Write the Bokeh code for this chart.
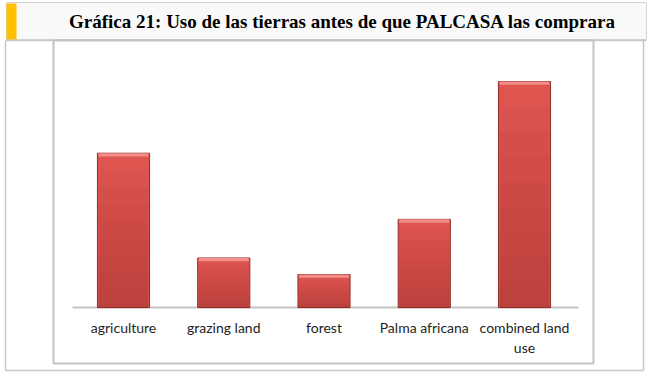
from bokeh.plotting import figure
from bokeh.models import Range1d, FactorRange
from bokeh.core.properties import value
from bokeh.embed import file_html
from bokeh.resources import INLINE

# ---- data ----
categories = ["agriculture", "grazing land", "forest", "Palma africana", "combined land use"]
tick_labels = ["agriculture", "grazing land", "forest", "Palma africana", "combined land\nuse"]
shares = [28, 9, 6, 16, 41]
title_text = "Gráfica 21: Uso de las tierras antes de que PALCASA las comprara"

W, H = 651, 376
FRAME_W = 647
PAD = 0.727
p = figure(
    width=W, height=H,
    x_range=FactorRange(factors=categories, range_padding=PAD, range_padding_units="absolute"),
    y_range=Range1d(-12.5, 55.7),
    x_axis_location=None, y_axis_location=None,
    output_backend="svg", toolbar_location=None,
    min_border_left=0, min_border_right=W - FRAME_W, min_border_top=0, min_border_bottom=0,
)
p.grid.visible = False
p.outline_line_color = None
p.background_fill_color = "white"
p.border_fill_color = "white"

# page-decoration helpers: pixel -> synthetic categorical x, pixel y range
SPAN = len(categories) + 2 * PAD
def sx(px):
    return -PAD + px * SPAN / FRAME_W

p.extra_y_ranges = {"px": Range1d(376, 0)}
PY = dict(y_range_name="px")

# title bar
p.quad(left=sx(6), right=sx(646), top=2, bottom=39, fill_color="#f9f9f9", line_color="#d4d4d4", line_width=1, **PY)
p.quad(left=sx(6), right=sx(16), top=3, bottom=39, fill_color="#ffc000", line_color=None, **PY)

# outer table lines
p.segment(x0=[sx(5), sx(5), sx(643), sx(5)], y0=[40, 40, 40, 370],
          x1=[sx(646), sx(5), sx(643), sx(643)], y1=[40, 370, 370, 370],
          line_color="#c8c8c8", line_width=1.5, **PY)

# chart frame
p.quad(left=sx(53), right=sx(593), top=40, bottom=363, fill_color="white", line_color="#c2c2c2", line_width=2, **PY)

# title
p.text(x=[sx(342)], y=[21], text=[title_text], text_font=value("Liberation Serif"), text_font_style="bold",
       text_font_size="19px", text_align="center", text_baseline="middle", text_color="#000000", **PY)

# baseline (category axis line at value 0)
p.segment(x0=[sx(72)], x1=[sx(578)], y0=[0], y1=[0], line_color="#c4c4c4", line_width=2)

# bars
p.vbar(x=categories, top=shares, bottom=0, width=0.52, fill_color="#de5550", line_color="#8f2c29", line_width=1)
# soft vertical shading (darker toward the base)
for k in range(1, 9):
    p.vbar(x=categories, top=[v * k / 9 for v in shares], bottom=0, width=0.50, fill_color="#5a0000",
           fill_alpha=0.028, line_color=None)
# top bevel highlight
p.vbar(x=categories, top=shares, bottom=[v - 0.6 for v in shares], width=0.50, fill_color="#f58d89",
       line_color=None)

# category labels
p.text(x=categories, y=[318] * len(categories), text=tick_labels, y_range_name="px",
       text_font=value("Lato"), text_font_size="14px", text_align="center", text_baseline="top",
       text_color="#1e1e1e", text_line_height=1.2)

open("out.html", "w").write(file_html(p, INLINE))
